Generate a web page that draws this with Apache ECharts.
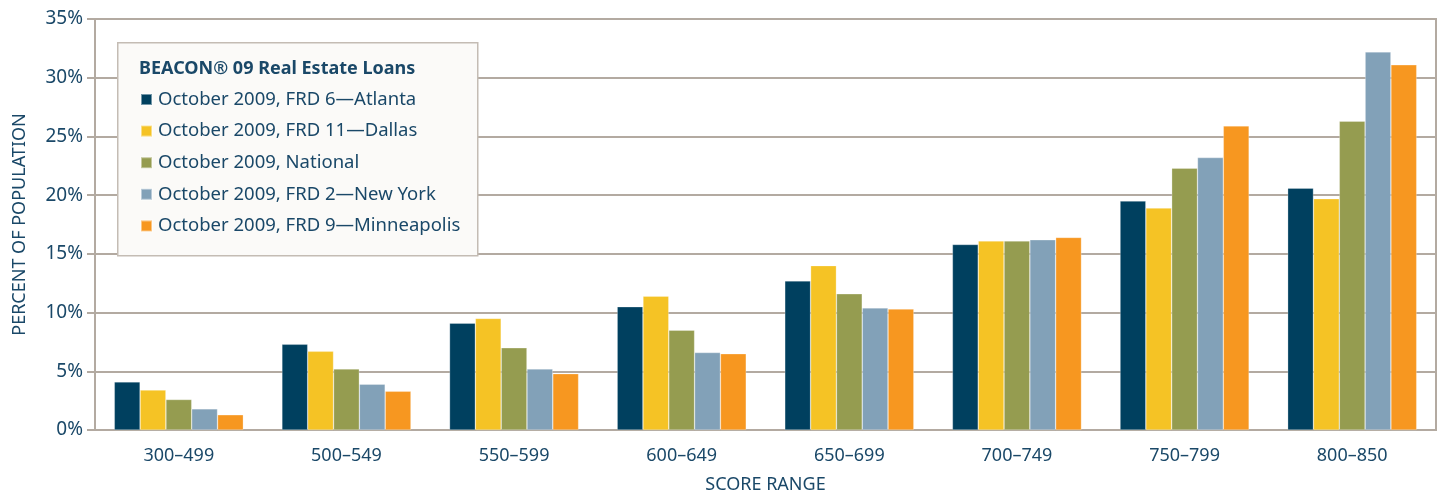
<!DOCTYPE html>
<html>
<head>
<meta charset="utf-8">
<script src="https://cdn.jsdelivr.net/npm/echarts@6/dist/echarts.min.js"></script>
<style>
  html, body { margin: 0; padding: 0; background: #ffffff; }
  #chart { width: 1442px; height: 494px; }
</style>
</head>
<body>
<div id="chart"></div>
<script>
// Score ranges on the category axis
const scoreRanges = ['300–499', '500–549', '550–599', '600–649', '650–699', '700–749', '750–799', '800–850'];

// Share of population (%) per score range, by region
const atlanta     = [4.1, 7.3, 9.1, 10.5, 12.7, 15.8, 19.5, 20.6];
const dallas      = [3.4, 6.7, 9.5, 11.4, 14.0, 16.1, 18.9, 19.7];
const national    = [2.6, 5.2, 7.0, 8.5, 11.6, 16.1, 22.3, 26.3];
const newYork     = [1.8, 3.9, 5.2, 6.6, 10.4, 16.2, 23.2, 32.2];
const minneapolis = [1.3, 3.3, 4.8, 6.5, 10.3, 16.4, 25.9, 31.1];

const seriesNames = [
  'October 2009, FRD 6—Atlanta',
  'October 2009, FRD 11—Dallas',
  'October 2009, National',
  'October 2009, FRD 2—New York',
  'October 2009, FRD 9—Minneapolis'
];
const seriesData = [atlanta, dallas, national, newYork, minneapolis];
const seriesColors = ['#00405f', '#f5c325', '#959c50', '#82a1b8', '#f79720'];

const textColor = '#1a4868';
const ruleColor = '#b3aaa1';
const fontFamily = '"Noto Sans", "Open Sans", sans-serif';

const chart = echarts.init(document.getElementById('chart'), null, { renderer: 'canvas' });

chart.setOption({
  animation: false,
  backgroundColor: '#ffffff',
  textStyle: { fontFamily: fontFamily, color: textColor },
  grid: {
    left: 95, right: 6, top: 19, bottom: 64,
    outerBoundsMode: 'none',
    containLabel: false,
    show: true, borderColor: ruleColor, borderWidth: 2
  },
  graphic: [{
    type: 'rect',
    left: 117, top: 42, z: 50,
    shape: { width: 360, height: 213 },
    style: { fill: '#fbfaf8', stroke: '#c4bcb4', lineWidth: 1.5 }
  }, {
    type: 'text',
    left: 139, top: 60, z: 51,
    style: {
      text: 'BEACON® 09 Real Estate Loans',
      fill: textColor,
      font: 'bold 18px ' + fontFamily
    }
  }],
  legend: {
    orient: 'vertical',
    left: 135, top: 84, z: 52,
    itemWidth: 11, itemHeight: 11, itemGap: 10.6,
    icon: 'rect',
    data: seriesNames,
    textStyle: { color: textColor, fontSize: 18.5, fontFamily: fontFamily, lineHeight: 21, padding: [0, 0, 0, 1] }
  },
  xAxis: {
    type: 'category',
    data: scoreRanges,
    name: 'SCORE RANGE',
    nameLocation: 'middle',
    nameGap: 46,
    nameTextStyle: { color: textColor, fontSize: 18 },
    axisLine: { show: true, lineStyle: { color: ruleColor, width: 2 } },
    axisTick: { show: false },
    axisLabel: { color: textColor, fontSize: 18, margin: 17 }
  },
  yAxis: {
    type: 'value',
    min: 0, max: 35, interval: 5,
    name: 'PERCENT OF POPULATION',
    nameLocation: 'middle',
    nameGap: 66,
    nameRotate: 90,
    nameTextStyle: { color: textColor, fontSize: 18 },
    axisLine: { show: true, lineStyle: { color: ruleColor, width: 2 } },
    axisTick: { show: true, length: 8, lineStyle: { color: ruleColor, width: 2 } },
    axisLabel: { color: textColor, fontSize: 19, margin: 12, formatter: '{value}%' },
    splitLine: { show: true, lineStyle: { color: ruleColor, width: 2 } }
  },
  series: seriesData.map((values, i) => ({
    name: seriesNames[i],
    type: 'bar',
    data: values,
    barGap: '0%',
    barCategoryGap: '23%',
    itemStyle: { color: seriesColors[i], borderColor: 'rgba(255,255,255,0.45)', borderWidth: 0.6 }
  }))
});
</script>
</body>
</html>
